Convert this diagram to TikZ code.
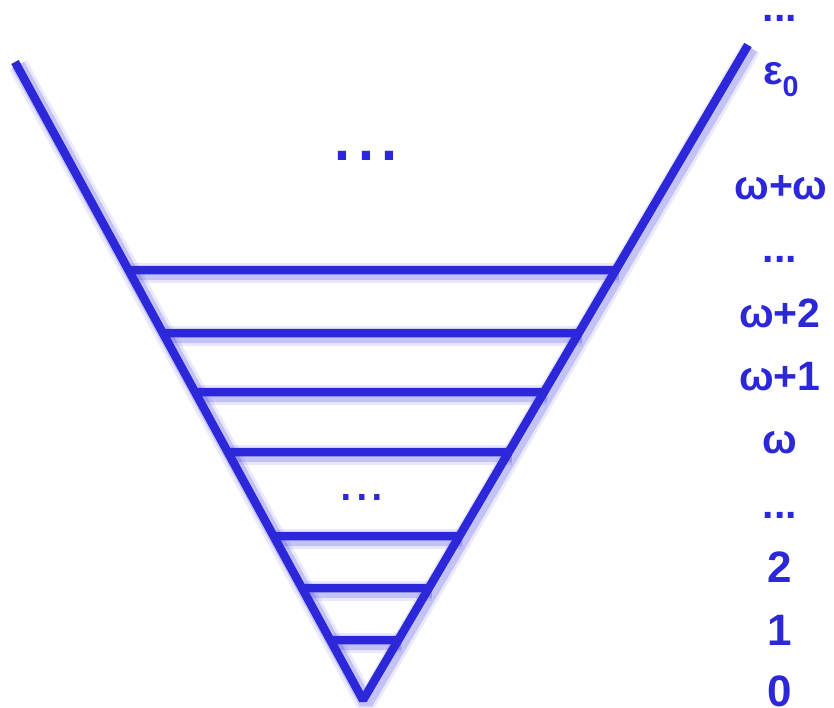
\documentclass[tikz,border=0pt]{standalone}
\usepackage{fontspec}
\setmainfont{Liberation Sans}
\definecolor{ordblue}{RGB}{44,40,218}
\begin{document}
\begin{tikzpicture}[x=1pt, y=-1pt]
    % Styles
    \tikzstyle{arm} = [draw=ordblue, line width=8.5pt, line join=bevel]
    \tikzstyle{glow} = [draw=ordblue, line join=bevel, transform canvas={xshift=3pt, yshift=-3pt}]
    \tikzstyle{lab} = [text=ordblue, font=\fontsize{41}{41}\selectfont\bfseries, anchor=base, inner sep=0pt]
    \tikzstyle{num} = [lab, font=\fontsize{44}{44}\selectfont\bfseries]
    \tikzstyle{dots} = [text=ordblue, anchor=base, inner sep=0pt]

    \useasboundingbox (0,0) rectangle (834,708);

    % Cone
    \coordinate (ltop) at (15,62);
    \coordinate (apex) at (363,700);
    \coordinate (rtop) at (748,45);

    % Shadow
    \foreach \w/\o in {20/0.10, 14/0.20} {
        \draw[glow, line width=\w pt, opacity=\o] (ltop) -- (apex) -- (rtop);
        \foreach \y in {270,333,392,452,536,588,640}
            \draw[glow, line width=\w pt, opacity=\o]
                (intersection of apex--ltop and 0,\y--10,\y) --
                (intersection of apex--rtop and 0,\y--10,\y);
    }

    % Arms and rungs
    \draw[arm] (ltop) -- (apex) -- (rtop);
    \foreach \y in {270,333,392,452,536,588,640}
        \draw[arm] (intersection of apex--ltop and 0,\y--10,\y) --
                   (intersection of apex--rtop and 0,\y--10,\y);

    % Dots inside the cone
    \node[dots, font=\fontsize{86}{86}\selectfont] (upper) at (366,161) {...};
    \node[dots, font=\fontsize{56}{56}\selectfont] (lower) at (362,500) {...};

    % Ordinals
    \node[lab] (more) at (780,22) {...};
    \node[lab] (eps) at (781,85) {ε\textsubscript{0}};
    \node[lab] (ww) at (781,200) {ω+ω};
    \node[lab] (dotsb) at (780,263) {...};
    \node[lab] (w2) at (780,327) {ω+2};
    \node[lab] (w1) at (780,390) {ω+1};
    \node[lab] (w0) at (780,453) {ω};
    \node[lab] (dotsa) at (780,518) {...};
    \node[num] (n2) at (780,582) {2};
    \node[num] (n1) at (780,645) {1};
    \node[num] (n0) at (780,706) {0};

\end{tikzpicture}
\end{document}
